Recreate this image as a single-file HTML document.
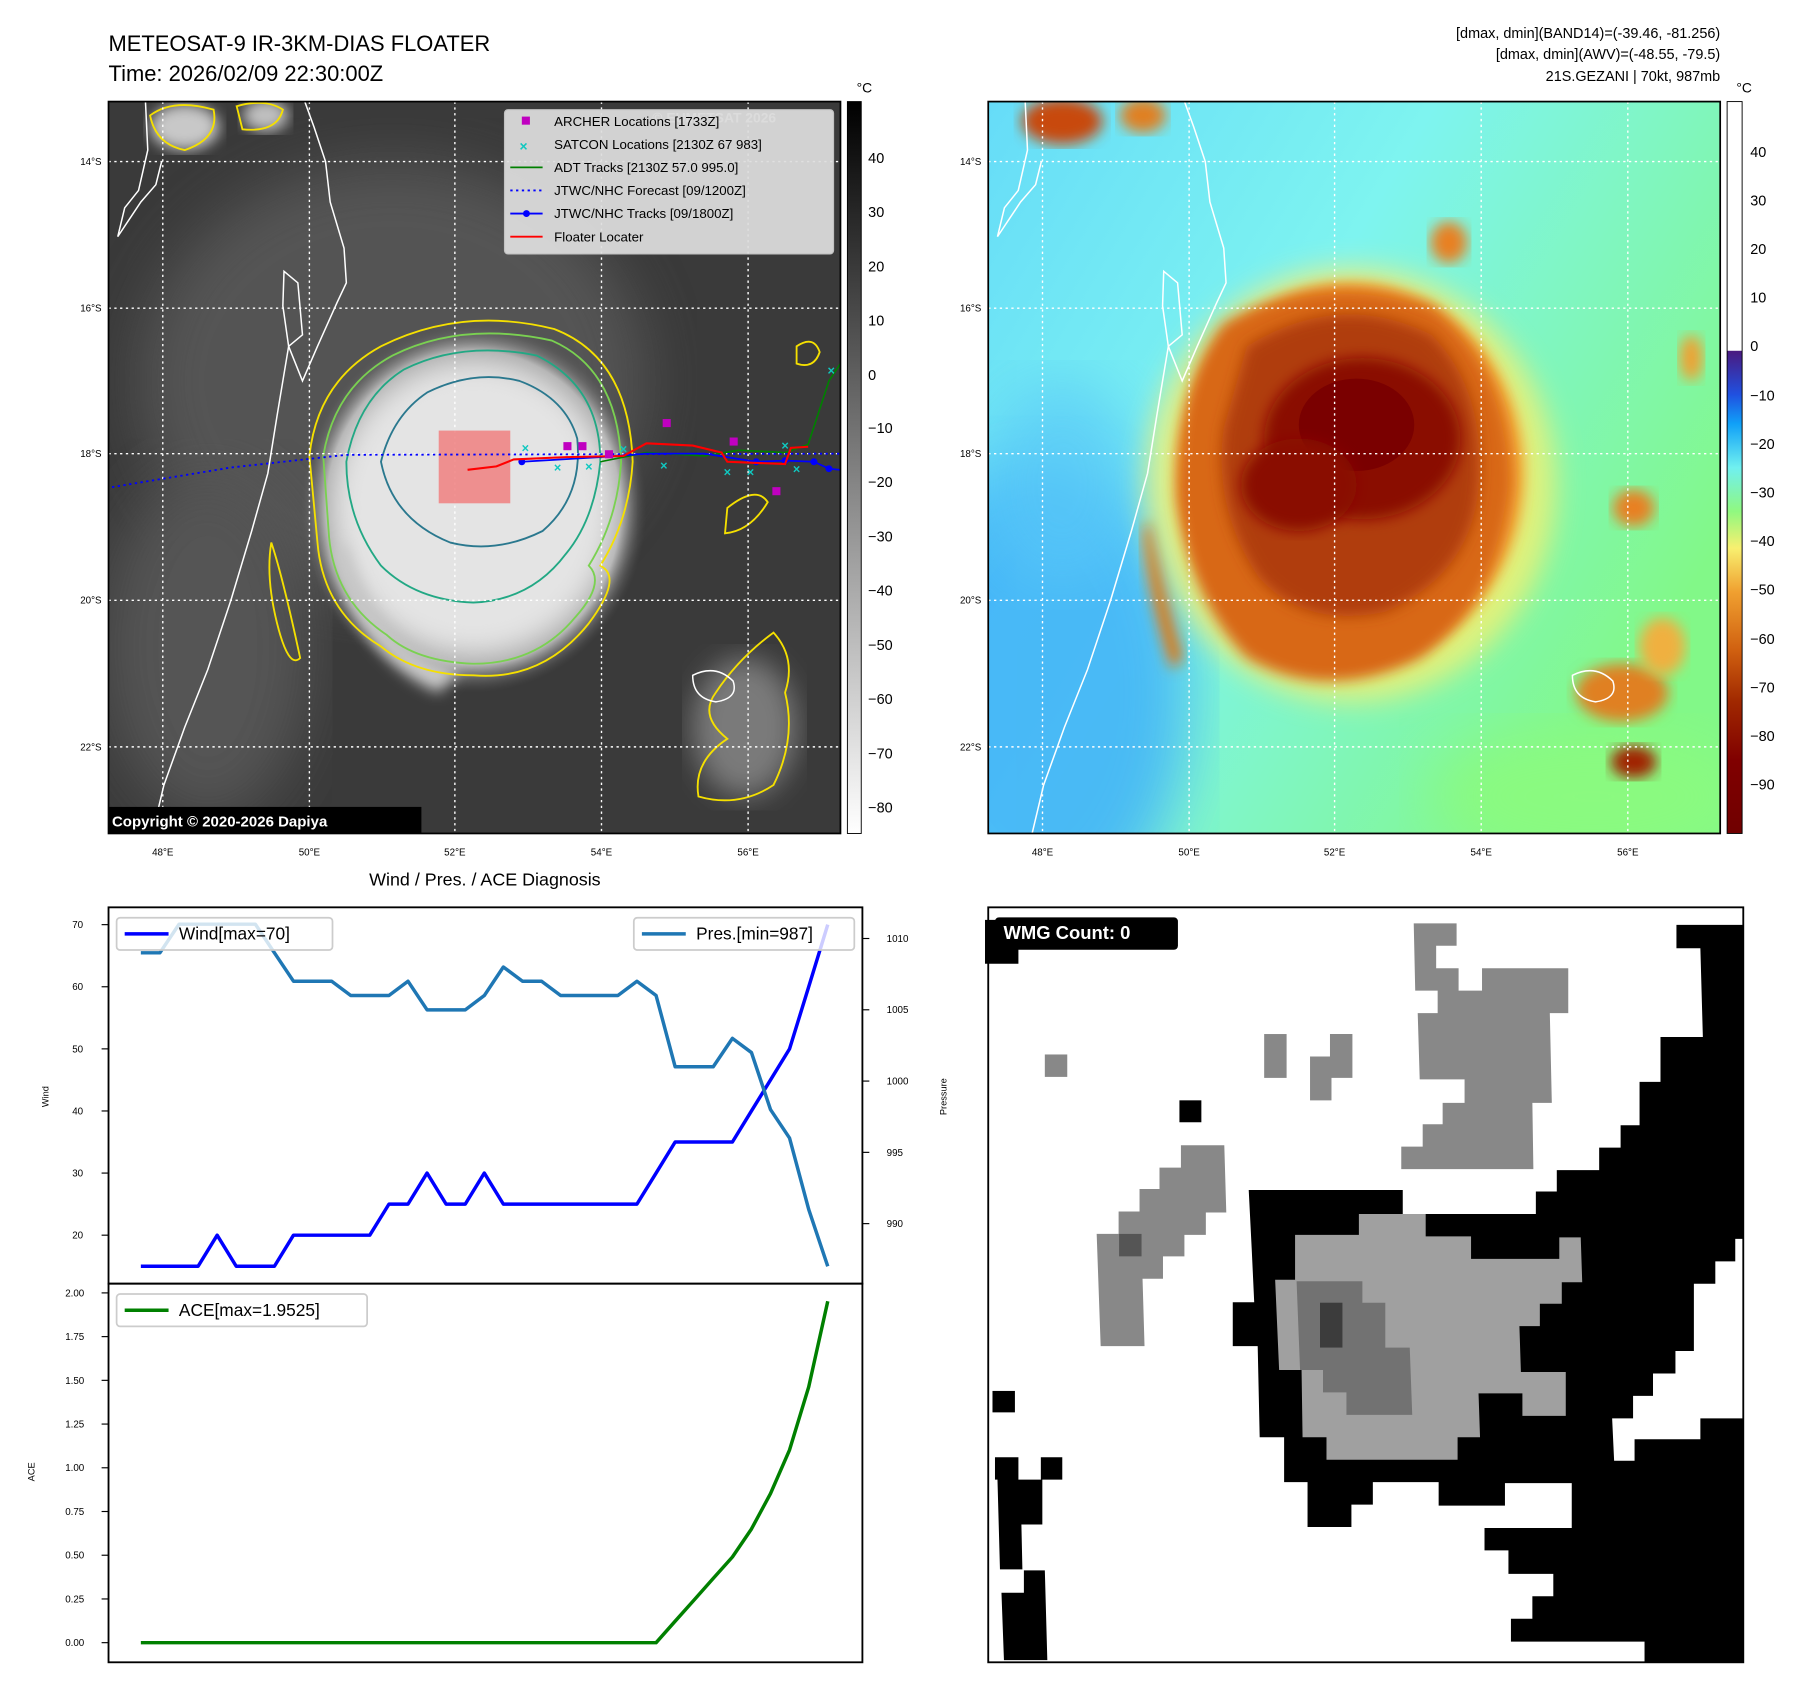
<!DOCTYPE html>
<html><head><meta charset="utf-8"><style>
html,body{margin:0;padding:0;background:#fff;}
svg{display:block;font-family:"Liberation Sans","DejaVu Sans",sans-serif;}
</style></head><body>
<svg id="root" width="1801" height="1690" viewBox="0 0 1560 1464" preserveAspectRatio="none" xmlns="http://www.w3.org/2000/svg">
<defs>
<clipPath id="c1"><rect x="94" y="88" width="634" height="634"/></clipPath>
<clipPath id="c2"><rect x="856" y="88" width="634" height="634"/></clipPath>
<filter id="b6"><feGaussianBlur stdDeviation="6"/></filter>
<filter id="b12"><feGaussianBlur stdDeviation="12"/></filter>
<filter id="b25"><feGaussianBlur stdDeviation="25"/></filter>
<linearGradient id="cb1" x1="0" y1="0" x2="0" y2="1"><stop offset="0" stop-color="#000"/><stop offset="1" stop-color="#fff"/></linearGradient>
<linearGradient id="cb2" x1="0" y1="0" x2="0" y2="1">
<stop offset="0" stop-color="#fff"/><stop offset="0.34" stop-color="#fff"/>
<stop offset="0.341" stop-color="#4a1a80"/><stop offset="0.40" stop-color="#2050e0"/>
<stop offset="0.44" stop-color="#10a0f8"/><stop offset="0.50" stop-color="#70f0f0"/>
<stop offset="0.56" stop-color="#90f880"/><stop offset="0.61" stop-color="#f8f070"/>
<stop offset="0.67" stop-color="#f0a030"/><stop offset="0.75" stop-color="#d06010"/>
<stop offset="0.82" stop-color="#a02800"/><stop offset="0.9" stop-color="#800000"/><stop offset="1" stop-color="#700000"/></linearGradient>
<linearGradient id="bg2" x1="0" y1="0" x2="1" y2="0.6"><stop offset="0" stop-color="#66dcf8"/><stop offset="0.45" stop-color="#7ef4f0"/><stop offset="1" stop-color="#82f888"/></linearGradient>
<radialGradient id="disk1"><stop offset="0" stop-color="#f2f2f2"/><stop offset="0.6" stop-color="#dcdcdc"/><stop offset="0.85" stop-color="#b0b0b0"/><stop offset="1" stop-color="#555" stop-opacity="0"/></radialGradient>
</defs>

<text x="94" y="44" font-size="19" fill="#000">METEOSAT-9 IR-3KM-DIAS FLOATER</text>
<text x="94" y="70" font-size="19" fill="#000">Time: 2026/02/09 22:30:00Z</text>
<g font-size="12.5" text-anchor="end" fill="#000">
<text x="1490" y="33">[dmax, dmin](BAND14)=(-39.46, -81.256)</text>
<text x="1490" y="51">[dmax, dmin](AWV)=(-48.55, -79.5)</text>
<text x="1490" y="70">21S.GEZANI | 70kt, 987mb</text>
</g>

<g clip-path="url(#c1)">
<rect x="94" y="88" width="634" height="634" fill="#3a3a3a"/>
<ellipse cx="340" cy="330" rx="220" ry="190" fill="#606060" filter="url(#b25)" opacity="0.7"/>
<ellipse cx="645" cy="630" rx="45" ry="60" fill="#7a7a7a" filter="url(#b12)"/>
<ellipse cx="180" cy="560" rx="90" ry="150" fill="#555" filter="url(#b25)"/>
<ellipse cx="410" cy="440" rx="150" ry="160" fill="url(#disk1)"/>
<ellipse cx="410" cy="440" rx="118" ry="122" fill="#e4e4e4" filter="url(#b12)"/>
<path d="M300,470 Q320,560 400,580 L380,600 Q310,570 290,480Z" fill="#c8c8c8" filter="url(#b6)"/>
<ellipse cx="160" cy="110" rx="30" ry="20" fill="#c8c8c8" filter="url(#b6)"/>
<ellipse cx="230" cy="100" rx="20" ry="14" fill="#c0c0c0" filter="url(#b6)"/>
<g fill="none" stroke-width="1.6">
<path d="M268,395 Q275,330 330,300 Q400,265 480,285 Q545,310 548,400 Q545,450 520,490 Q540,500 510,540 Q470,590 410,585 Q360,585 330,560 Q280,530 275,470 Z" stroke="#f5e000"/>
<path d="M280,395 Q290,335 340,308 Q400,278 478,295 Q535,320 538,400 Q535,450 510,490 Q525,505 498,535 Q465,575 410,575 Q360,573 335,550 Q290,520 285,465 Z" stroke="#7ad151"/>
<path d="M300,400 Q310,345 350,320 Q400,295 465,308 Q520,335 520,400 Q515,450 490,480 Q460,520 410,522 Q360,520 330,490 Q300,450 300,400Z" stroke="#22a884"/>
<path d="M330,400 Q340,360 370,340 Q410,320 450,330 Q490,345 500,380 Q505,430 470,460 Q430,480 390,470 Q340,450 330,400Z" stroke="#2a788e"/>
<path d="M620,600 Q640,570 670,548 Q690,570 680,600 Q690,640 670,680 Q640,700 605,690 Q600,660 630,640 Q605,620 620,600Z" stroke="#f5e000"/>
<path d="M690,300 Q705,290 710,305 Q705,320 690,315Z M630,440 Q655,420 665,435 Q650,460 628,462Z M235,470 Q245,500 260,570 Q250,580 240,540 Q230,500 235,470Z M130,100 Q150,85 185,95 Q190,120 160,130 Q135,125 130,100Z M205,92 Q230,85 245,95 Q240,115 210,112Z" stroke="#f5e000"/>
</g>
<g stroke="#fff" stroke-width="1.2" stroke-dasharray="2,3">
<line x1="141" y1="88" x2="141" y2="722"/><line x1="268" y1="88" x2="268" y2="722"/><line x1="394" y1="88" x2="394" y2="722"/><line x1="521" y1="88" x2="521" y2="722"/><line x1="648" y1="88" x2="648" y2="722"/>
<line x1="94" y1="140" x2="728" y2="140"/><line x1="94" y1="267" x2="728" y2="267"/><line x1="94" y1="393" x2="728" y2="393"/><line x1="94" y1="520" x2="728" y2="520"/><line x1="94" y1="647" x2="728" y2="647"/>
</g>
<g fill="none" stroke="#fff" stroke-width="1.3">
<path d="M264,88 L272,110 L282,140 L286,175 L298,215 L300,245 L292,262 L275,300 L262,330 L250,300 L262,290 L258,245 L246,235 L245,265 L250,300 L240,360 L232,410 L218,460 L200,520 L180,580 L160,630 L142,680 L132,722"/>
<path d="M126,88 L128,130 L120,165 L108,180 L102,205 L112,190 L122,175 L135,160 L140,140"/>
<path d="M600,585 Q620,575 635,590 Q640,605 620,608 Q600,605 600,585Z"/>
</g>
<rect x="380" y="373" width="62" height="63" fill="#f08080" opacity="0.85"/>
<g>
<polyline points="97,422 200,405 300,394 728,393" fill="none" stroke="#0000ff" stroke-width="1.6" stroke-dasharray="2,3"/>
<polyline points="520,400 560,392 610,395 640,390 680,392 700,385 718,330 728,315" fill="none" stroke="#008000" stroke-width="1.4"/>
<polyline points="452,400 520,396 560,393 610,393 655,400 680,399 705,400 718,406 728,407" fill="none" stroke="#0000ff" stroke-width="1.5"/>
<g fill="#0000ff"><circle cx="452" cy="400" r="3"/><circle cx="655" cy="400" r="3"/><circle cx="680" cy="399" r="3"/><circle cx="705" cy="400" r="3"/><circle cx="718" cy="406" r="3"/></g>
<polyline points="405,407 430,404 445,398 490,396 540,395 560,384 600,386 625,392 630,400 680,402 685,388 700,387" fill="none" stroke="#ff0000" stroke-width="1.8"/>
<g fill="#c000c0"><rect x="488" y="383" width="7" height="7"/><rect x="501" y="383" width="7" height="7"/><rect x="524" y="390" width="7" height="7"/><rect x="574" y="363" width="7" height="7"/><rect x="632" y="379" width="7" height="7"/><rect x="669" y="422" width="7" height="7"/></g>
<g fill="#10c8c0" font-size="11" font-weight="bold" text-anchor="middle">
<text x="455" y="392">×</text><text x="483" y="409">×</text><text x="510" y="408">×</text><text x="540" y="393">×</text><text x="575" y="407">×</text><text x="630" y="413">×</text><text x="650" y="413">×</text><text x="680" y="390">×</text><text x="690" y="410">×</text><text x="720" y="325">×</text>
</g>
</g>
<text x="565" y="106" font-size="12" font-weight="bold" fill="#ccc">© EUMETSAT 2026</text>
</g>
<rect x="94" y="88" width="634" height="634" fill="none" stroke="#000" stroke-width="1.5"/>
<g>
<rect x="437" y="95" width="285" height="125" rx="3" fill="#dedede" opacity="0.93" stroke="#ccc"/>
<rect x="452" y="101" width="7" height="7" fill="#c000c0"/>
<text x="450" y="131" font-size="12" font-weight="bold" fill="#10c8c0">×</text>
<line x1="442" y1="145" x2="470" y2="145" stroke="#008000" stroke-width="1.6"/>
<line x1="442" y1="165" x2="470" y2="165" stroke="#0000ff" stroke-width="1.6" stroke-dasharray="2,3"/>
<line x1="442" y1="185" x2="470" y2="185" stroke="#0000ff" stroke-width="1.6"/><circle cx="456" cy="185" r="3" fill="#0000ff"/>
<line x1="442" y1="205" x2="470" y2="205" stroke="#ff0000" stroke-width="1.6"/>
<g font-size="11.5" fill="#000">
<text x="480" y="109">ARCHER Locations [1733Z]</text>
<text x="480" y="129">SATCON Locations [2130Z 67 983]</text>
<text x="480" y="149">ADT Tracks [2130Z 57.0 995.0]</text>
<text x="480" y="169">JTWC/NHC Forecast [09/1200Z]</text>
<text x="480" y="189">JTWC/NHC Tracks [09/1800Z]</text>
<text x="480" y="209">Floater Locater</text>
</g></g>
<rect x="94" y="699" width="271" height="23" fill="#000"/>
<text x="97" y="716" font-size="13" font-weight="bold" fill="#fff">Copyright © 2020-2026 Dapiya</text>
<g font-size="8.5" fill="#000" text-anchor="end">
<text x="88" y="143">14°S</text><text x="88" y="270">16°S</text><text x="88" y="396">18°S</text><text x="88" y="523">20°S</text><text x="88" y="650">22°S</text></g>
<g font-size="8.5" fill="#000" text-anchor="middle">
<text x="141" y="741">48°E</text><text x="268" y="741">50°E</text><text x="394" y="741">52°E</text><text x="521" y="741">54°E</text><text x="648" y="741">56°E</text></g>
<rect x="734" y="88" width="12" height="634" fill="url(#cb1)" stroke="#000" stroke-width="0.8"/>
<text x="742" y="80" font-size="12">°C</text>
<g font-size="12.5" fill="#000">
<text x="752" y="141">40</text><text x="752" y="188">30</text><text x="752" y="235">20</text><text x="752" y="282">10</text><text x="752" y="329">0</text><text x="752" y="375">−10</text><text x="752" y="422">−20</text><text x="752" y="469">−30</text><text x="752" y="516">−40</text><text x="752" y="563">−50</text><text x="752" y="610">−60</text><text x="752" y="657">−70</text><text x="752" y="704">−80</text></g>

<g clip-path="url(#c2)">
<rect x="856" y="88" width="634" height="634" fill="url(#bg2)"/>
<ellipse cx="900" cy="600" rx="130" ry="200" fill="#40b0f8" filter="url(#b25)" opacity="0.85"/>
<ellipse cx="920" cy="420" rx="70" ry="90" fill="#58c8f8" filter="url(#b25)" opacity="0.7"/>
<ellipse cx="1380" cy="690" rx="140" ry="60" fill="#8afa80" filter="url(#b25)"/>
<ellipse cx="1170" cy="420" rx="178" ry="188" fill="#f8f070" filter="url(#b12)" opacity="0.8"/>
<ellipse cx="1170" cy="410" rx="150" ry="165" fill="#f4a030" filter="url(#b6)"/>
<path d="M1060,280 Q1150,230 1240,265 Q1310,320 1310,420 Q1300,520 1230,570 Q1150,610 1080,570 Q1030,520 1020,430 Q1020,330 1060,280Z" fill="#d86818" filter="url(#b6)"/>
<path d="M1080,300 Q1160,250 1240,290 Q1290,340 1280,430 Q1270,500 1200,530 Q1130,545 1090,500 Q1050,440 1060,370Z" fill="#b03c08" filter="url(#b6)"/>
<ellipse cx="1180" cy="380" rx="85" ry="70" fill="#8a0800" filter="url(#b6)"/>
<ellipse cx="1175" cy="368" rx="50" ry="40" fill="#7a0000"/>
<ellipse cx="1125" cy="420" rx="50" ry="40" fill="#8a1000" filter="url(#b6)"/>
<path d="M995,450 Q1010,520 1025,570 L1015,580 Q995,520 990,460Z" fill="#e07818" filter="url(#b6)"/>
<ellipse cx="1255" cy="210" rx="16" ry="18" fill="#e88020" filter="url(#b6)"/>
<ellipse cx="1415" cy="440" rx="18" ry="16" fill="#e88020" filter="url(#b6)"/>
<ellipse cx="1405" cy="600" rx="40" ry="25" fill="#e08020" filter="url(#b6)"/>
<ellipse cx="1415" cy="660" rx="20" ry="14" fill="#a02000" filter="url(#b6)"/>
<ellipse cx="1440" cy="560" rx="20" ry="25" fill="#f0b040" filter="url(#b6)"/>
<ellipse cx="920" cy="105" rx="35" ry="20" fill="#c84810" filter="url(#b6)"/>
<ellipse cx="990" cy="100" rx="20" ry="15" fill="#e08020" filter="url(#b6)"/>
<ellipse cx="1465" cy="310" rx="10" ry="20" fill="#f0a030" filter="url(#b6)"/>
<g stroke="#fff" stroke-width="1.2" stroke-dasharray="2,3">
<line x1="903" y1="88" x2="903" y2="722"/><line x1="1030" y1="88" x2="1030" y2="722"/><line x1="1156" y1="88" x2="1156" y2="722"/><line x1="1283" y1="88" x2="1283" y2="722"/><line x1="1410" y1="88" x2="1410" y2="722"/>
<line x1="856" y1="140" x2="1490" y2="140"/><line x1="856" y1="267" x2="1490" y2="267"/><line x1="856" y1="393" x2="1490" y2="393"/><line x1="856" y1="520" x2="1490" y2="520"/><line x1="856" y1="647" x2="1490" y2="647"/>
</g>
<g fill="none" stroke="#fff" stroke-width="1.3">
<path d="M1026,88 L1034,110 L1044,140 L1048,175 L1060,215 L1062,245 L1054,262 L1037,300 L1024,330 L1012,300 L1024,290 L1020,245 L1008,235 L1007,265 L1012,300 L1002,360 L994,410 L980,460 L962,520 L942,580 L922,630 L904,680 L894,722"/>
<path d="M888,88 L890,130 L882,165 L870,180 L864,205 L874,190 L884,175 L897,160 L902,140"/>
<path d="M1362,585 Q1382,575 1397,590 Q1402,605 1382,608 Q1362,605 1362,585Z"/>
</g>
</g>
<rect x="856" y="88" width="634" height="634" fill="none" stroke="#000" stroke-width="1.5"/>
<g font-size="8.5" fill="#000" text-anchor="end">
<text x="850" y="143">14°S</text><text x="850" y="270">16°S</text><text x="850" y="396">18°S</text><text x="850" y="523">20°S</text><text x="850" y="650">22°S</text></g>
<g font-size="8.5" fill="#000" text-anchor="middle">
<text x="903" y="741">48°E</text><text x="1030" y="741">50°E</text><text x="1156" y="741">52°E</text><text x="1283" y="741">54°E</text><text x="1410" y="741">56°E</text></g>
<rect x="1496" y="88" width="13" height="634" fill="url(#cb2)" stroke="#000" stroke-width="0.8"/>
<text x="1504" y="80" font-size="12">°C</text>
<g font-size="12.5" fill="#000">
<text x="1516" y="136">40</text><text x="1516" y="178">30</text><text x="1516" y="220">20</text><text x="1516" y="262">10</text><text x="1516" y="304">0</text><text x="1516" y="347">−10</text><text x="1516" y="389">−20</text><text x="1516" y="431">−30</text><text x="1516" y="473">−40</text><text x="1516" y="515">−50</text><text x="1516" y="558">−60</text><text x="1516" y="600">−70</text><text x="1516" y="642">−80</text><text x="1516" y="684">−90</text></g>

<text x="420" y="767" font-size="15.5" text-anchor="middle">Wind / Pres. / ACE Diagnosis</text>
<g id="chart"></g>

<g>
<rect x="856" y="786" width="654" height="654" fill="#fff"/>
<g transform="translate(853.2,779.6) scale(0.4318)">
<polygon fill="#000" points="529,582 838,582 838,630 1105,630 1105,585 1147,585 1147,542 1232,542 1232,497 1275,497 1275,452 1313,452 1313,365 1355,365 1355,275 1440,275 1435,97 1387,97 1387,50 1520,50 1520,1530 1323,1530 1323,1488 1055,1488 1055,1442 1098,1442 1098,1397 1140,1397 1140,1352 1050,1352 1050,1305 1002,1305 1002,1260 1177,1260 1177,1170 1043,1170 1043,1215 910,1215 910,1168 778,1168 778,1213 735,1213 735,1258 647,1258 647,1168 600,1168 600,1078 551,1078 547,895 497,895 497,807 540,807 535,700"/>
<polygon fill="#fff" points="1520,680 1505,680 1505,725 1465,725 1465,770 1422,770 1422,905 1385,905 1385,950 1340,950 1340,995 1300,995 1300,1040 1258,1040 1262,1125 1303,1125 1303,1082 1435,1082 1435,1040 1520,1040"/>
<polygon fill="#a0a0a0" points="750,630 884,630 884,675 975,675 975,720 1152,720 1152,677 1195,677 1198,767 1157,767 1157,810 1113,810 1113,855 1072,855 1075,947 1165,947 1165,1035 1078,1035 1078,990 990,990 993,1078 948,1078 948,1123 685,1123 685,1078 637,1078 635,943 590,943 582,762 622,762 622,672 750,672"/>
<polygon fill="#727272" points="625,765 757,765 757,808 803,808 803,898 852,898 857,1033 725,1033 725,988 678,988 678,943 632,943"/>
<rect x="672" y="808" width="45" height="90" fill="#3c3c3c"/>
<polygon fill="#888" points="860,47 946,47 946,92 905,92 905,137 950,137 950,182 997,182 997,137 1170,137 1170,227 1133,227 1137,407 1098,407 1100,540 835,540 835,495 878,495 878,450 918,450 918,407 962,407 962,360 872,360 868,227 908,227 908,182 863,182"/>
<rect x="120" y="310" width="45" height="45" fill="#888"/>
<rect x="560" y="269" width="45" height="88" fill="#888"/>
<polygon fill="#888" points="692,269 737,269 737,357 695,357 695,402 652,402 652,314 692,314"/>
<polygon fill="#888" points="393,492 480,492 484,627 443,627 443,672 400,672 400,715 357,715 357,760 316,760 320,895 232,895 224,670 268,670 268,625 310,625 310,580 350,580 350,537 393,537"/>
<rect x="269" y="670" width="45" height="45" fill="#555"/>
<rect x="390" y="402" width="44" height="44" fill="#000"/>
<rect x="15" y="985" width="45" height="43" fill="#000"/>
<rect x="0" y="40" width="67" height="88" fill="#000"/>
<polygon fill="#000" points="20,1118 67,1118 67,1163 112,1163 112,1118 155,1118 155,1163 115,1163 115,1253 73,1253 75,1343 30,1343 25,1163 20,1163"/>
<polygon fill="#000" points="78,1345 120,1345 125,1525 38,1525 33,1390 78,1390"/>
<rect x="20" y="35" width="367" height="65" rx="8" fill="#000"/>
<text x="37" y="78" font-size="37" font-weight="bold" fill="#fff">WMG Count: 0</text>
</g>
<rect x="856" y="786" width="654" height="654" fill="none" stroke="#000" stroke-width="1.6"/>
</g>
</svg>
<script>
const windVals=[15,15,15,15,20,15,15,15,20,20,20,20,20,25,25,30,25,25,30,25,25,25,25,25,25,25,25,30,35,35,35,35,40,45,50,60,70];
const presVals=[1009,1009,1011,1011,1011,1011,1011,1009,1007,1007,1007,1006,1006,1006,1007,1005,1005,1005,1006,1008,1007,1007,1006,1006,1006,1006,1007,1006,1001,1001,1001,1003,1002,998,996,991,987];
const aceVals=[0,0,0,0,0,0,0,0,0,0,0,0,0,0,0,0,0,0,0,0,0,0,0,0,0,0,0,0,0.1225,0.245,0.3675,0.49,0.65,0.8525,1.1025,1.4625,1.9525];
const windTicks=[20,30,40,50,60,70];
const presTicks=[990,995,1000,1005,1010];
const aceTicks=[0,0.25,0.5,0.75,1,1.25,1.5,1.75,2];
const NS="http://www.w3.org/2000/svg";
const g=document.getElementById('chart');
function mk(tag,at,parent){const e=document.createElementNS(NS,tag);for(const k in at)e.setAttribute(k,at[k]);(parent||g).appendChild(e);return e;}
const n=windVals.length;
function xS(i){return 122+i*(717-122)/(n-1);}
function yW(v){return 801+(70-v)*(1070-801)/50;}
function yP(v){return 813+(1010-v)*(1060-813)/20;}
function yA(v){return 1423-v*(1423-1120)/2;}
const f1=mk('rect',{x:94,y:786,width:653,height:326,fill:'none',stroke:'#000','stroke-width':1.6});


const f2=mk('rect',{x:94,y:1112,width:653,height:328,fill:'none',stroke:'#000','stroke-width':1.6});


windTicks.forEach(t=>{const y=yW(t);mk('line',{x1:88,y1:y,x2:94,y2:y,stroke:'#000'});
 const tx=mk('text',{x:72,y:y+3,'font-size':8.5,'text-anchor':'end'});tx.textContent=t;
 
 });
presTicks.forEach(t=>{const y=yP(t);mk('line',{x1:747,y1:y,x2:753,y2:y,stroke:'#000'});
 const tx=mk('text',{x:768,y:y+3,'font-size':8.5});tx.textContent=t;
 
 });
aceTicks.forEach(t=>{const y=yA(t);mk('line',{x1:88,y1:y,x2:94,y2:y,stroke:'#000'});
 const tx=mk('text',{x:73,y:y+3,'font-size':8.5,'text-anchor':'end'});tx.textContent=t.toFixed(2);
 
 });
function lab(txt,x,y,name){const t=mk('text',{x:x,y:y,'font-size':8,'text-anchor':'middle',transform:`rotate(-90 ${x} ${y})`});t.textContent=txt;
 
 }
lab('Wind',42,950,'wind-axis-title');lab('Pressure',820,950,'pressure-axis-title');lab('ACE',30,1275,'ace-axis-title');
function line(vals,ys,color,name){const p=vals.map((v,i)=>xS(i).toFixed(1)+','+ys(v).toFixed(1)).join(' ');
 const l=mk('polyline',{points:p,fill:'none',stroke:color,'stroke-width':3,'stroke-linejoin':'round'});
 
 }
line(windVals,yW,'#0000ff','wind-line');
line(presVals,yP,'#1f77b4','pressure-line');
line(aceVals,yA,'#008000','ace-line');
function legend(x,y,w,color,txt,name){const r=mk('rect',{x:x,y:y,width:w,height:28,rx:3,fill:'#fff','fill-opacity':0.8,stroke:'#ccc','stroke-width':1.5});
 
 
 mk('line',{x1:x+7,y1:y+14,x2:x+45,y2:y+14,stroke:color,'stroke-width':3});
 const t=mk('text',{x:x+54,y:y+19,'font-size':15});t.textContent=txt;}
legend(101,795,187,'#0000ff','Wind[max=70]','wind-legend');
legend(549,795,191,'#1f77b4','Pres.[min=987]','pressure-legend');
legend(101,1121,217,'#008000','ACE[max=1.9525]','ace-legend');
</script>
</body></html>
